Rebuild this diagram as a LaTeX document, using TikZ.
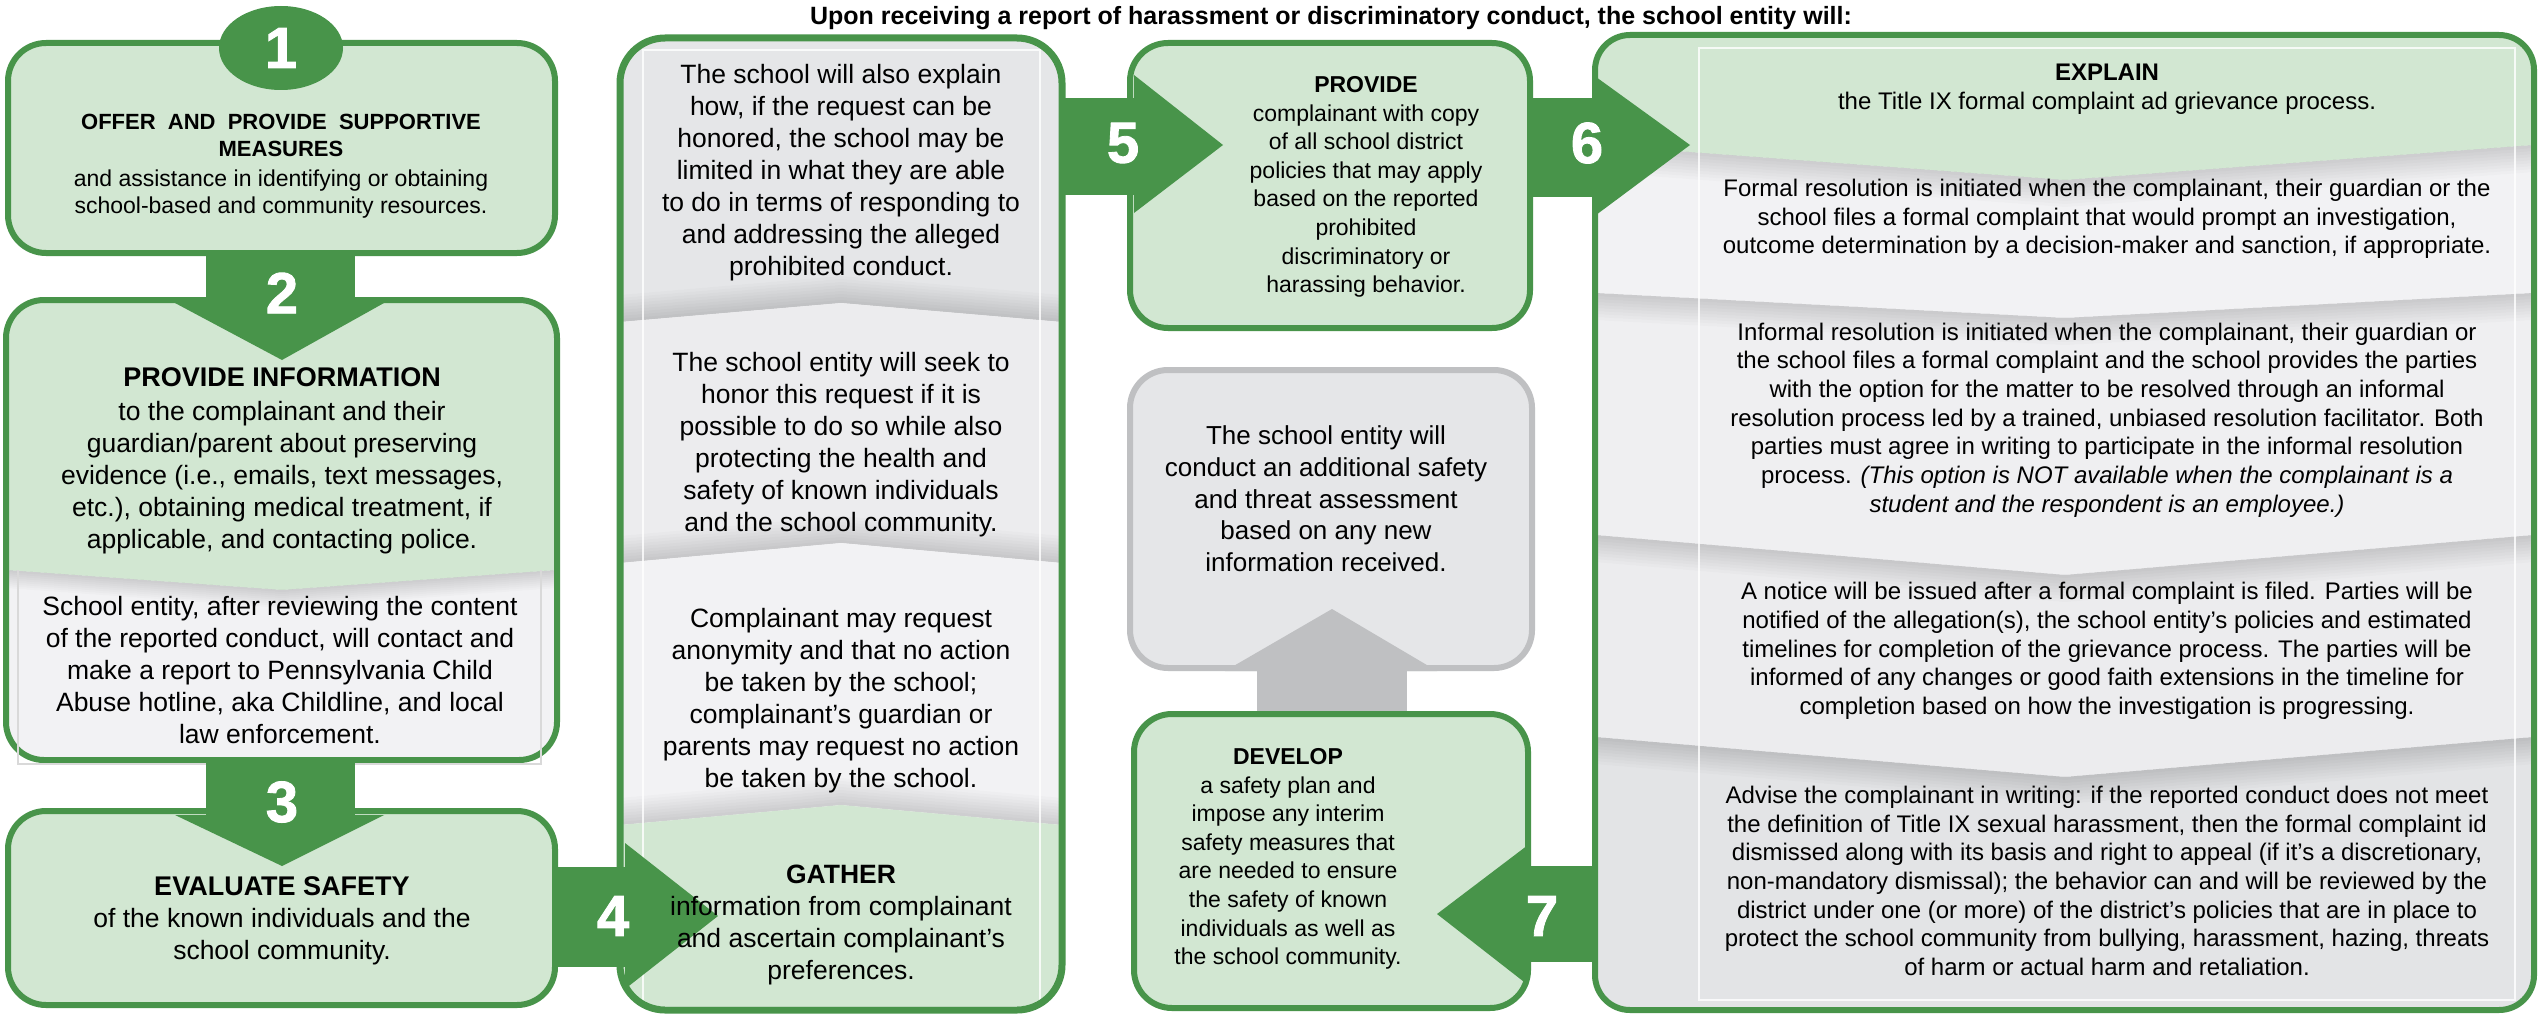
\documentclass[tikz,border=0pt]{standalone}
\usepackage{fontspec}
\setmainfont{Liberation Sans}
\newfontfamily\heavy[FakeBold=1.5]{Liberation Sans}
\definecolor{G}{HTML}{48944A}
\definecolor{LG}{HTML}{D2E7D2}
\definecolor{GA}{HTML}{E5E6E8}
\definecolor{GB}{HTML}{ECECEE}
\definecolor{GC}{HTML}{F2F2F4}
\definecolor{GS}{HTML}{EFEFF1}
\definecolor{GE}{HTML}{E3E4E6}
\definecolor{GD}{HTML}{BFC0C2}
\newcommand{\chevshade}[6]{%
  \foreach \k in {1,...,9}{%
    \fill[black, opacity=0.014] (#1,#4) -- (#2,#5) -- (#3,#4) -- (#3,{#4+(#6)*\k}) -- (#2,{#5+(#6)*\k}) -- (#1,{#4+(#6)*\k}) -- cycle;
  }}
\begin{document}
\begin{tikzpicture}[x=1pt,y=-1pt,
  gbox/.style={draw=G, line width=6pt, fill=LG, rounded corners=38pt},
  num/.style={text=white, font=\heavy\bfseries\fontsize{58}{58}\selectfont, inner sep=0pt},
  txt/.style={align=center, inner sep=0pt, text=black},
  tA/.style={txt, font=\fontsize{26.5}{32}\selectfont},
  tB/.style={txt, font=\fontsize{23}{28.6}\selectfont},
  tC/.style={txt, font=\fontsize{24}{28.7}\selectfont},
  conn/.style={fill=G},
]
\useasboundingbox (0,0) rectangle (2539,1014);
\fill[white] (0,0) rectangle (2539,1014);

% ---------- column 1 ----------
\draw[gbox] (8,43) rectangle (555,253);
\begin{scope}
  \clip[rounded corners=38pt] (6,300) rectangle (557,760);
  \fill[LG] (6,300) rectangle (557,760);
  \fill[GC] (6,570) -- (282,590) -- (557,570) -- (557,760) -- (6,760) -- cycle;
  \chevshade{6}{282}{557}{570}{590}{2}
\end{scope}
\draw[G, line width=6pt, rounded corners=38pt] (6,300) rectangle (557,760);
\draw[black!15, line width=1.2pt] (18,570) -- (18,764) -- (541,764) -- (541,570);
\draw[gbox] (8,811) rectangle (555,1005);

% ---------- middle column ----------
\begin{scope}
  \clip[rounded corners=45pt] (620,38) rectangle (1062,1010);
  \fill[GA] (620,38) rectangle (1062,1010);
  \chevshade{620}{841}{1062}{322}{303}{-3}
  \fill[GB] (620,322) -- (841,303) -- (1062,322) -- (1062,1010) -- (620,1010) -- cycle;
  \chevshade{620}{841}{1062}{563}{543}{-3}
  \fill[GC] (620,563) -- (841,543) -- (1062,563) -- (1062,1010) -- (620,1010) -- cycle;
  \chevshade{620}{841}{1062}{825}{805}{-3}
  \fill[LG] (620,825) -- (841,805) -- (1062,825) -- (1062,1010) -- (620,1010) -- cycle;
\end{scope}
\draw[white, line width=1.5pt, opacity=0.8] (643,50) rectangle (1040,1007);
\draw[G, line width=7pt, rounded corners=45pt] (620,38) rectangle (1062,1010);

% ---------- column 5 / 7 ----------
\draw[gbox] (1130,43) rectangle (1530,328);
\draw[draw=GD, line width=6pt, fill=GA, rounded corners=38pt] (1130,370) rectangle (1532,668);
\fill[GD] (1257,664) rectangle (1407,716);
\fill[GD] (1225,671) -- (1332,609) -- (1437,671) -- cycle;
\draw[gbox] (1134,714) rectangle (1528,1008);

% ---------- column 6 ----------
\begin{scope}
  \clip[rounded corners=35pt] (1595,35) rectangle (2534,1010);
  \fill[LG] (1595,35) rectangle (2534,1010);
  \fill[GC] (1595,145) -- (2065,180) -- (2534,145) -- (2534,1010) -- (1595,1010) -- cycle;
  \chevshade{1595}{2065}{2534}{145}{180}{3}
  \fill[GS] (1595,293) -- (2065,318) -- (2534,293) -- (2534,1010) -- (1595,1010) -- cycle;
  \chevshade{1595}{2065}{2534}{293}{318}{3}
  \fill[GB] (1595,535) -- (2065,575) -- (2534,535) -- (2534,1010) -- (1595,1010) -- cycle;
  \chevshade{1595}{2065}{2534}{535}{575}{3}
  \fill[GE] (1595,737) -- (2065,777) -- (2534,737) -- (2534,1010) -- (1595,1010) -- cycle;
  \chevshade{1595}{2065}{2534}{737}{777}{3}
\end{scope}
\draw[white, line width=1.5pt, opacity=0.8] (1699,48) rectangle (2515,1000);
\draw[G, line width=6pt, rounded corners=35pt] (1595,35) rectangle (2534,1010);

% ---------- connectors ----------
\fill[G] (281,48) ellipse [x radius=62, y radius=42];
\fill[conn] (206,250) rectangle (355,304);
\fill[conn] (175,303) -- (384,303) -- (282,360) -- cycle;
\fill[conn] (206,757) rectangle (355,816);
\fill[conn] (175,815) -- (384,815) -- (282,866) -- cycle;
\fill[conn] (552,867) rectangle (626,967);
\fill[conn] (625,843) -- (718,916) -- (625,989) -- cycle;
\fill[conn] (1060,98) rectangle (1136,195);
\fill[conn] (1134,75) -- (1223,145) -- (1134,213) -- cycle;
\fill[conn] (1528,98) rectangle (1598,197);
\fill[conn] (1596,77) -- (1690,145) -- (1596,215) -- cycle;
\fill[conn] (1526,866) rectangle (1598,962);
\fill[conn] (1528,845) -- (1437,914) -- (1528,985) -- cycle;

\node[num] (n1) at (281,48) {1};
\node[num] (n2) at (282,293) {2};
\node[num] (n3) at (282,802) {3};
\node[num] (n4) at (613,916) {4};
\node[num] (n5) at (1123,143) {5};
\node[num] (n6) at (1587,143) {6};
\node[num] (n7) at (1542,916) {7};

% ---------- title ----------
\node[anchor=base, inner sep=0pt, font=\bfseries\fontsize{25}{25}\selectfont] (title) at (1331,25) {Upon receiving a report of harassment or discriminatory conduct, the school entity will:};

% ---------- texts ----------
\node[txt, font=\fontsize{23}{27}\selectfont] (t1) at (281,166) {\textbf{\fontsize{22}{27}\selectfont OFFER\ \ AND\ \ PROVIDE\ \ SUPPORTIVE}\\\textbf{\fontsize{22}{27}\selectfont MEASURES}\\[3pt]and assistance in identifying or obtaining\\school-based and community resources.};
\node[tA] (t2a) at (282,461) {\textbf{\fontsize{27}{32}\selectfont PROVIDE INFORMATION}\\[2pt]to the complainant and their\\guardian/parent about preserving\\evidence (i.e., emails, text messages,\\etc.), obtaining medical treatment, if\\applicable, and contacting police.};
\node[tA] (t2b) at (280,670) {School entity, after reviewing the content\\of the reported conduct, will contact and\\make a report to Pennsylvania Child\\Abuse hotline, aka Childline, and local\\law enforcement.};
\node[tA] (t3) at (282,921) {\textbf{\fontsize{27}{32}\selectfont EVALUATE SAFETY}\\of the known individuals and the\\school community.};

\node[tA] (m1) at (841,173) {The school will also explain\\how, if the request can be\\honored, the school may be\\limited in what they are able\\to do in terms of responding to\\and addressing the alleged\\prohibited conduct.};
\node[tA] (m2) at (841,445) {The school entity will seek to\\honor this request if it is\\possible to do so while also\\protecting the health and\\safety of known individuals\\and the school community.};
\node[tA] (m3) at (841,701) {Complainant may request\\anonymity and that no action\\be taken by the school;\\complainant’s guardian or\\parents may request no action\\be taken by the school.};
\node[tA] (m4) at (841,925) {\textbf{GATHER}\\information from complainant\\and ascertain complainant’s\\preferences.};

\node[tB] (t5) at (1366,187) {\textbf{PROVIDE}\\complainant with copy\\of all school district\\policies that may apply\\based on the reported\\prohibited\\discriminatory or\\harassing behavior.};
\node[txt, font=\fontsize{26}{31.7}\selectfont] (tg) at (1326,499) {The school entity will\\conduct an additional safety\\and threat assessment\\based on any new\\information received.};
\node[tB] (t7) at (1288,859) {\textbf{DEVELOP}\\a safety plan and\\impose any interim\\safety measures that\\are needed to ensure\\the safety of known\\individuals as well as\\the school community.};

\node[tC] (r1) at (2107,89) {\textbf{EXPLAIN}\\the Title IX formal complaint ad grievance process.};
\node[tC] (r2) at (2107,219) {Formal resolution is initiated when the complainant, their guardian or the\\school files a formal complaint that would prompt an investigation,\\outcome determination by a decision-maker and sanction, if appropriate.};
\node[tC] (r3) at (2107,420) {Informal resolution is initiated when the complainant, their guardian or\\the school files a formal complaint and the school provides the parties\\with the option for the matter to be resolved through an informal\\resolution process led by a trained, unbiased resolution facilitator. Both\\parties must agree in writing to participate in the informal resolution\\process. \textit{(This option is NOT available when the complainant is a}\\\textit{student and the respondent is an employee.)}};
\node[tC] (r4) at (2107,651) {A notice will be issued after a formal complaint is filed. Parties will be\\notified of the allegation(s), the school entity’s policies and estimated\\timelines for completion of the grievance process. The parties will be\\informed of any changes or good faith extensions in the timeline for\\completion based on how the investigation is progressing.};
\node[tC] (r5) at (2107,881) {Advise the complainant in writing: if the reported conduct does not meet\\the definition of Title IX sexual harassment, then the formal complaint id\\dismissed along with its basis and right to appeal (if it’s a discretionary,\\non-mandatory dismissal); the behavior can and will be reviewed by the\\district under one (or more) of the district’s policies that are in place to\\protect the school community from bullying, harassment, hazing, threats\\of harm or actual harm and retaliation.};
\end{tikzpicture}
\end{document}
